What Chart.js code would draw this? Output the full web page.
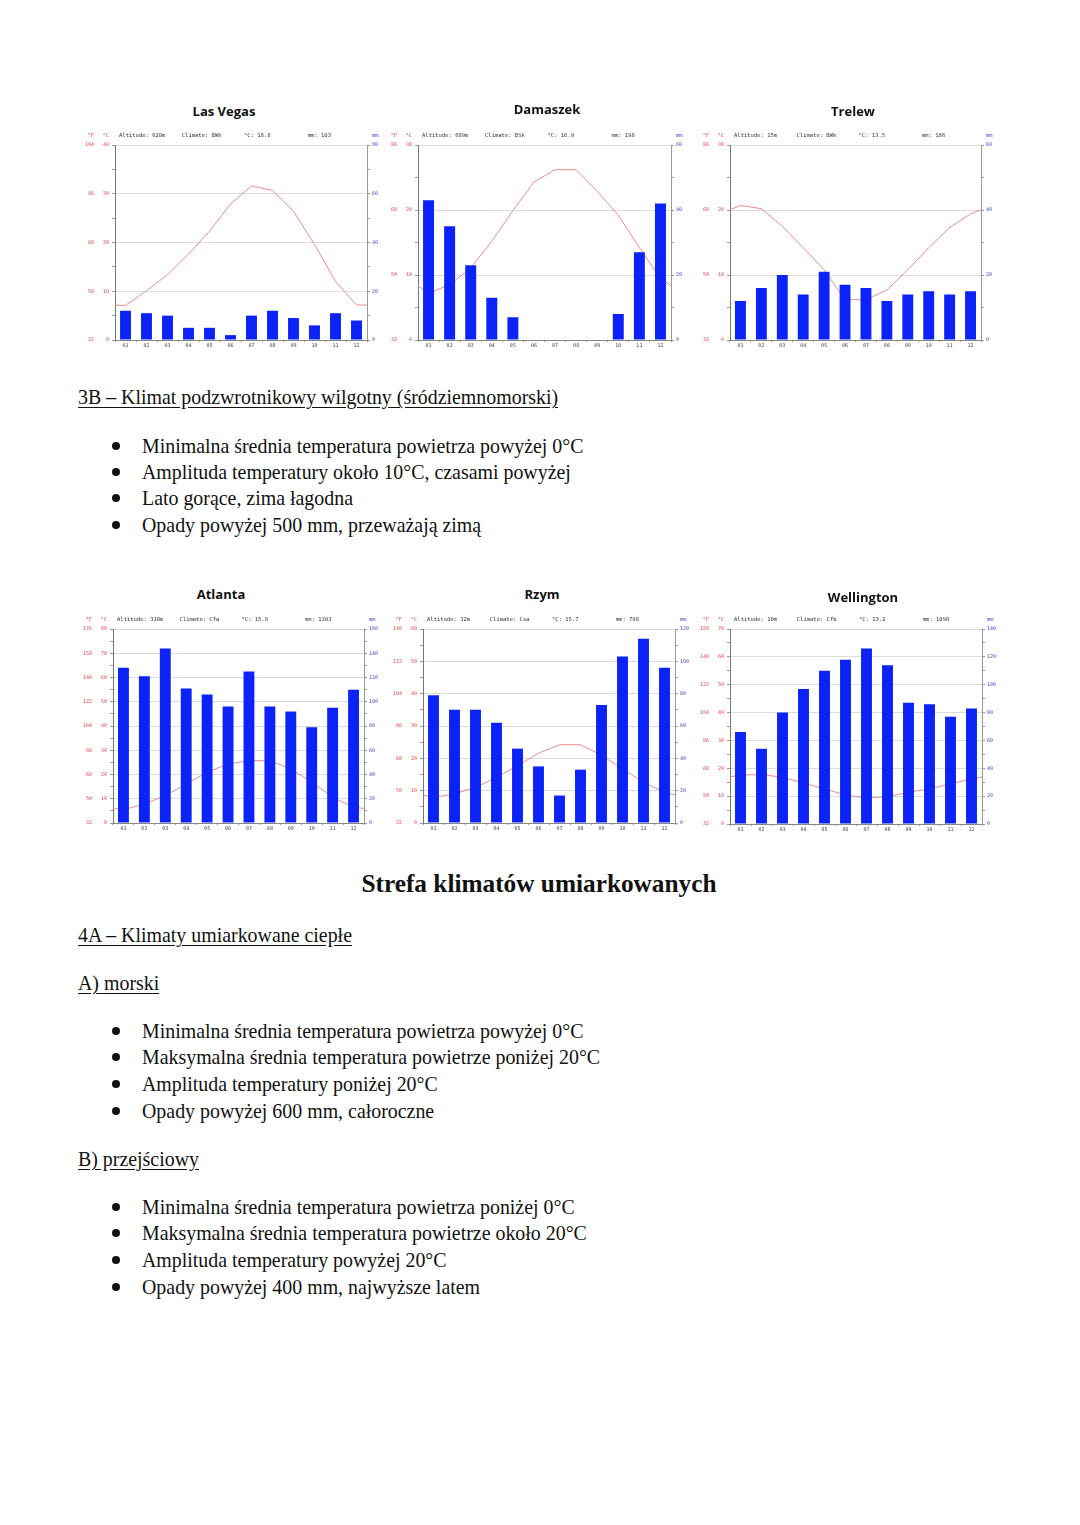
<!DOCTYPE html>
<html>
<head>
<meta charset="utf-8">
<script src="https://cdn.jsdelivr.net/npm/chart.js@4.4.0/dist/chart.umd.min.js"></script>
<style>
body { margin: 0; background: #fff; width: 1080px; height: 1525px; position: relative; overflow: hidden; }
.t { position: absolute; font-family: 'Liberation Serif', 'Times New Roman', serif; font-size: 19.9px; line-height: 24px; color: #111; white-space: nowrap; }
.u { text-decoration: underline; text-underline-offset: 3px; }
.h { font-weight: bold; font-size: 25.3px; line-height: 30px; }
.dot { position: absolute; width: 8px; height: 8px; border-radius: 50%; background: #111; }
.ct { position: absolute; font-family: 'Open Sans', sans-serif; font-weight: 700; font-size: 13px; line-height: 16px; color: #111; transform: translateX(-50%); white-space: nowrap; }
canvas { position: absolute; }
</style>
</head>
<body>

<div class="t u" style="left:78px;top:385px">3B – Klimat podzwrotnikowy wilgotny (śródziemnomorski)</div>
<div class="dot" style="left:112px;top:442px"></div>
<div class="t" style="left:142px;top:434px">Minimalna średnia temperatura powietrza powyżej 0°C</div>
<div class="dot" style="left:112px;top:468px"></div>
<div class="t" style="left:142px;top:460px">Amplituda temperatury około 10°C, czasami powyżej</div>
<div class="dot" style="left:112px;top:494px"></div>
<div class="t" style="left:142px;top:486px">Lato gorące, zima łagodna</div>
<div class="dot" style="left:112px;top:521px"></div>
<div class="t" style="left:142px;top:513px">Opady powyżej 500 mm, przeważają zimą</div>

<div class="t h" style="left:0;width:1078px;text-align:center;top:868px">Strefa klimatów umiarkowanych</div>

<div class="t u" style="left:78px;top:923px">4A – Klimaty umiarkowane ciepłe</div>
<div class="t u" style="left:78px;top:971px">A) morski</div>
<div class="dot" style="left:112px;top:1027px"></div>
<div class="t" style="left:142px;top:1019px">Minimalna średnia temperatura powietrza powyżej 0°C</div>
<div class="dot" style="left:112px;top:1053px"></div>
<div class="t" style="left:142px;top:1045px">Maksymalna średnia temperatura powietrze poniżej 20°C</div>
<div class="dot" style="left:112px;top:1080px"></div>
<div class="t" style="left:142px;top:1072px">Amplituda temperatury poniżej 20°C</div>
<div class="dot" style="left:112px;top:1107px"></div>
<div class="t" style="left:142px;top:1099px">Opady powyżej 600 mm, całoroczne</div>

<div class="t u" style="left:78px;top:1147px">B) przejściowy</div>
<div class="dot" style="left:112px;top:1203px"></div>
<div class="t" style="left:142px;top:1195px">Minimalna średnia temperatura powietrza poniżej 0°C</div>
<div class="dot" style="left:112px;top:1229px"></div>
<div class="t" style="left:142px;top:1221px">Maksymalna średnia temperatura powietrze około 20°C</div>
<div class="dot" style="left:112px;top:1256px"></div>
<div class="t" style="left:142px;top:1248px">Amplituda temperatury powyżej 20°C</div>
<div class="dot" style="left:112px;top:1283px"></div>
<div class="t" style="left:142px;top:1275px">Opady powyżej 400 mm, najwyższe latem</div>

<script>
// months on the x axis
const months = ['01', '02', '03', '04', '05', '06', '07', '08', '09', '10', '11', '12'];

// stations, in the order they appear on the page
const cities = ['Las Vegas', 'Damaszek', 'Trelew', 'Atlanta', 'Rzym', 'Wellington'];
const altitude = ['620m', '689m', '15m', '310m', '32m', '10m'];
const climate = ['BWh', 'BSk', 'BWk', 'Cfa', 'Csa', 'Cfb'];
const avgTemp = ['18.8', '16.9', '13.5', '15.8', '15.7', '13.2'];
const totalRain = ['103', '198', '186', '1303', '798', '1098'];
const tempMax = [40, 30, 30, 80, 60, 70]; // °C axis top, mm axis is twice that

// monthly mean temperature (°C) and precipitation (mm)
const lasVegasTemp = [7.1, 10.1, 13.4, 17.6, 22.3, 27.9, 31.6, 30.7, 26.4, 19.6, 12.0, 7.2];
const lasVegasRain = [12, 11, 10, 5, 5, 2, 10, 12, 9, 6, 11, 8];
const damaszekTemp = [7.2, 8.5, 11.1, 15.2, 19.9, 24.3, 26.2, 26.2, 22.9, 19.2, 14.2, 9.5];
const damaszekRain = [43, 35, 23, 13, 7, 0, 0, 0, 0, 8, 27, 42];
const trelewTemp = [20.7, 20.2, 17.5, 14.2, 10.8, 6.2, 6.2, 7.7, 10.8, 14.2, 17.3, 19.4];
const trelewRain = [12, 16, 20, 14, 21, 17, 16, 12, 14, 15, 14, 15];
const atlantaTemp = [5.5, 7.8, 11.3, 16.1, 20.9, 24.3, 25.7, 25.7, 22.3, 16.8, 10.6, 6.5];
const atlantaRain = [128, 121, 144, 111, 106, 96, 125, 96, 92, 79, 95, 110];
const rzymTemp = [7.9, 9.0, 11.0, 14.1, 17.7, 21.6, 24.2, 24.2, 21.0, 16.7, 12.6, 9.5];
const rzymRain = [79, 70, 70, 62, 46, 35, 17, 33, 73, 103, 114, 96];
const wellingtonTemp = [17.6, 17.7, 16.8, 14.7, 12.6, 10.4, 9.3, 9.8, 11.4, 12.6, 14.4, 16.2];
const wellingtonRain = [66, 54, 80, 97, 110, 118, 126, 114, 87, 86, 77, 83];

const temps = [lasVegasTemp, damaszekTemp, trelewTemp, atlantaTemp, rzymTemp, wellingtonTemp];
const rains = [lasVegasRain, damaszekRain, trelewRain, atlantaRain, rzymRain, wellingtonRain];

// where each plot area sits on the page: [left, right, top, bottom]
const plotBoxes = [
    [115, 367, 145, 340], [418, 671, 145, 340], [730, 981, 145, 340],
    [113, 364, 629, 823], [423, 675, 629, 823], [730, 982, 629, 824]
];
const titlePos = [[224, 103], [547, 101], [853, 103], [221, 586], [542, 586], [863, 589]];

const RED = '#e0474c';
const BLUE = '#4848c8';
const tinyFont = { family: 'DejaVu Sans Mono', size: 5 };

const headerPlugin = {
    id: 'header',
    afterDraw(chart, args, opts) {
        const { ctx, chartArea, scales } = chart;
        const y = chartArea.top - 9;
        ctx.save();
        ctx.font = '5.5px "DejaVu Sans Mono"';
        ctx.textBaseline = 'middle';
        ctx.textAlign = 'right';
        ctx.fillStyle = RED;
        ctx.fillText('°F', scales.yF.right - 3, y);
        ctx.fillText('°C', scales.yC.right - 6, y);
        ctx.textAlign = 'left';
        ctx.fillStyle = BLUE;
        ctx.fillText('mm', scales.y2.left + 5, y);
        ctx.fillStyle = '#333';
        const w = chartArea.right - chartArea.left;
        const frac = [0.016, 0.265, 0.512, 0.765];
        opts.items.forEach((s, i) => ctx.fillText(s, chartArea.left + w * frac[i], y));
        ctx.restore();
    }
};

const renderChart = (i) => {
    const [L, R, T, B] = plotBoxes[i];
    const canvas = document.createElement('canvas');
    const w = R - L + 36 + 22;
    const h = B - T + 18 + 12;
    canvas.width = w;
    canvas.height = h;
    canvas.style.left = (L - 36) + 'px';
    canvas.style.top = (T - 18) + 'px';
    canvas.style.width = w + 'px';
    canvas.style.height = h + 'px';
    document.body.appendChild(canvas);

    const title = document.createElement('div');
    title.className = 'ct';
    title.textContent = cities[i];
    title.style.left = titlePos[i][0] + 'px';
    title.style.top = titlePos[i][1] + 'px';
    document.body.appendChild(title);

    // line runs edge to edge; the edge value is the Dec/Jan mean
    const t = temps[i];
    const edge = (t[0] + t[11]) / 2;
    const linePoints = [{ x: 0, y: edge }]
        .concat(t.map((v, k) => ({ x: k + 0.5, y: v })))
        .concat([{ x: 12, y: edge }]);
    const maxC = tempMax[i];

    new Chart(canvas, {
        type: 'bar',
        data: {
            labels: months,
            datasets: [
                {
                    type: 'bar',
                    data: rains[i],
                    xAxisID: 'x',
                    yAxisID: 'y2',
                    backgroundColor: '#0b22f8',
                    grouped: false,
                    barPercentage: 0.52,
                    categoryPercentage: 1,
                    order: 0
                },
                {
                    type: 'line',
                    data: linePoints,
                    xAxisID: 'xL',
                    yAxisID: 'yC',
                    borderColor: '#e88c8c',
                    borderWidth: 1,
                    pointRadius: 0,
                    tension: 0,
                    order: 1
                }
            ]
        },
        options: {
            responsive: false,
            animation: false,
            devicePixelRatio: 1,
            layout: { padding: { top: 18, left: 0, right: 0, bottom: 0 } },
            plugins: {
                legend: { display: false },
                tooltip: { enabled: false },
                header: {
                    items: ['Altitude: ' + altitude[i], 'Climate: ' + climate[i],
                            '°C: ' + avgTemp[i], 'mm: ' + totalRain[i]]
                }
            },
            scales: {
                x: {
                    type: 'category',
                    offset: true,
                    border: { color: '#888' },
                    grid: { drawOnChartArea: false, offset: true, tickLength: 2, tickColor: '#999' },
                    ticks: { font: tinyFont, color: '#444', padding: 1, maxRotation: 0, autoSkip: false },
                    afterFit: (s) => { s.height = 12; }
                },
                xL: { type: 'linear', min: 0, max: 12, offset: false, display: false },
                yF: {
                    position: 'left',
                    weight: 1,
                    min: 0,
                    max: maxC,
                    grid: { display: false, drawTicks: false, tickLength: 0 },
                    border: { display: false },
                    ticks: {
                        stepSize: 5, autoSkip: false, font: tinyFont, color: RED, padding: 3,
                        callback: (v) => (v % 10 === 0 ? String(Math.round(v * 9 / 5 + 32)) : '')
                    },
                    afterFit: (s) => { s.width = 18; }
                },
                yC: {
                    position: 'left',
                    weight: 0,
                    min: 0,
                    max: maxC,
                    border: { color: '#777' },
                    grid: {
                        color: (c) => (c.tick && c.tick.value % 10 === 0 && c.tick.value > 0 ? '#dcdcdc' : 'rgba(0,0,0,0)'),
                        tickColor: '#999',
                        tickLength: 3
                    },
                    ticks: {
                        stepSize: 5, autoSkip: false, font: tinyFont, color: RED, padding: 3,
                        callback: (v) => (v % 10 === 0 ? String(v) : '')
                    },
                    afterFit: (s) => { s.width = 18; }
                },
                y2: {
                    position: 'right',
                    min: 0,
                    max: maxC * 2,
                    border: { color: '#999' },
                    grid: { drawOnChartArea: false, tickColor: '#999', tickLength: 3 },
                    ticks: {
                        stepSize: 10, autoSkip: false, font: tinyFont, color: BLUE, padding: 2,
                        callback: (v) => (v % 20 === 0 ? String(v) : '')
                    },
                    afterFit: (s) => { s.width = 22; }
                }
            }
        },
        plugins: [headerPlugin]
    });
};

cities.forEach((c, i) => renderChart(i));
</script>
</body>
</html>
